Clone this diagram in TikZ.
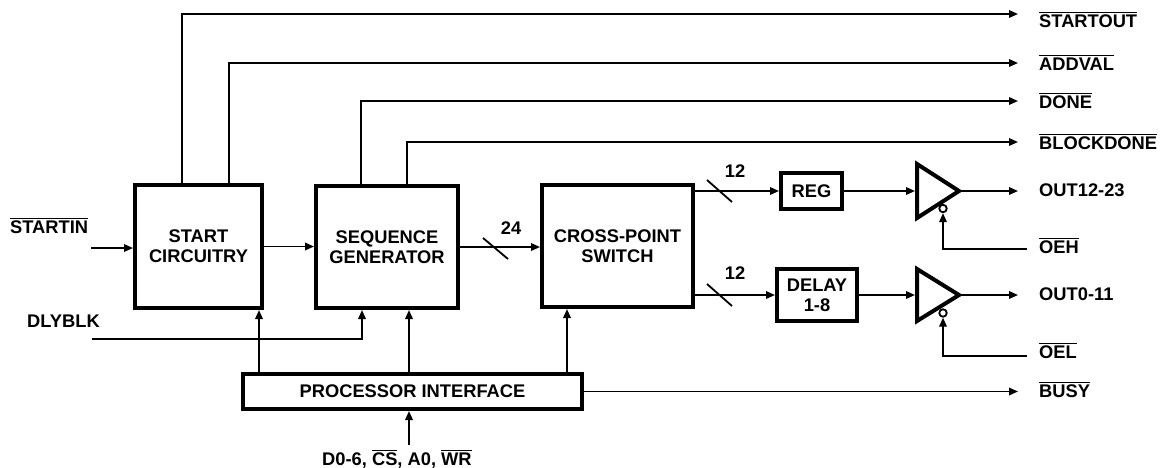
\documentclass[tikz,border=0pt]{standalone}
\usepackage{fontspec}
\setmainfont{Liberation Sans}
\usetikzlibrary{arrows.meta}
\newcommand{\barred}[1]{\leavevmode\vbox{\hrule height 0.9pt\kern 1.6pt\hbox{#1}}}
\begin{document}
\begin{tikzpicture}[x=1pt,y=-1pt,
  every node/.style={font=\fontsize{18.3}{20}\selectfont\bfseries},
  blk/.style={draw,line width=4pt,inner sep=0pt,align=center},
  wire/.style={line width=1.8pt},
  arr/.style={wire,-{Triangle[length=9pt,width=7.5pt]}},
  lbl/.style={anchor=base west,inner sep=0pt},
  num/.style={inner sep=0pt},
  buf/.style={line width=4pt},
  bubble/.style={circle,draw,line width=1.8pt,inner sep=0pt,minimum size=7.5pt}]
\useasboundingbox (0,0) rectangle (1166,467);

% blocks
\node[blk,minimum width=127pt,minimum height=123pt] (start) at (198.5,246.5) {START\\CIRCUITRY};
\node[blk,minimum width=142pt,minimum height=122pt] (seq) at (387,247) {SEQUENCE\\GENERATOR};
\node[blk,minimum width=151pt,minimum height=122pt] (xps) at (617.5,246) {CROSS-POINT\\SWITCH};
\node[blk,minimum width=61pt,minimum height=36pt] (reg) at (811.5,191) {REG};
\node[blk,minimum width=80pt,minimum height=52pt] (dly) at (817,295) {DELAY\\1-8};
\node[blk,minimum width=339pt,minimum height=35pt] (pi) at (412.5,391.5) {PROCESSOR INTERFACE};

% buffers
\draw[buf] (917,164) -- (959,191) -- (917,218) -- cycle;
\draw[buf] (917,269) -- (959,295) -- (917,321) -- cycle;
\coordinate (b1in) at (915,191);
\coordinate (b1out) at (961,191);
\coordinate (b2in) at (915,295);
\coordinate (b2out) at (961,295);
\node[bubble] (bub1) at (943,208.5) {};
\node[bubble] (bub2) at (943,313) {};

% end points
\coordinate (so) at (1018,14);
\coordinate (av) at (1018,63);
\coordinate (dn) at (1018,101);
\coordinate (bd) at (1018,142);
\coordinate (o1) at (1018,191);
\coordinate (o2) at (1018,295);
\coordinate (oeh) at (1027,249);
\coordinate (oel) at (1027,356);
\coordinate (busy) at (1018,391.5);
\coordinate (stin) at (91,248);
\coordinate (dlyin) at (92,339);
\coordinate (din) at (409,445);
\coordinate (c1) at (259,0);
\coordinate (c2) at (409,0);
\coordinate (c3) at (567,0);

% connectors
\draw[arr] ([xshift=-16.5pt]start.north) |- (so);
\draw[arr] ([xshift=30.5pt]start.north) |- (av);
\draw[arr] ([xshift=-26pt]seq.north) |- (dn);
\draw[arr] ([xshift=20pt]seq.north) |- (bd);
\draw[arr] (stin) -- (stin -| start.west);
\draw[arr] (start.east) -- (start.east -| seq.west);
\draw[arr] (seq.east) -- (seq.east -| xps.west);
\draw[arr] (dlyin) -| ([xshift=-25pt]seq.south);
\draw[arr] (pi.north -| c1) -- (start.south -| c1);
\draw[arr] (pi.north -| c2) -- (seq.south -| c2);
\draw[arr] (pi.north -| c3) -- (xps.south -| c3);
\draw[arr] (din) -- (din |- pi.south);
\draw[arr] (pi.east) -- (busy);
\draw[arr] (xps.east |- reg) -- (reg.west);
\draw[arr] (xps.east |- dly) -- (dly.west);
\draw[arr] (reg.east) -- (b1in);
\draw[arr] (dly.east) -- (b2in);
\draw[arr] (b1out) -- (o1);
\draw[arr] (b2out) -- (o2);
\draw[arr] (oeh) -| (bub1.south);
\draw[arr] (oel) -| (bub2.south);

% bus slashes
\draw[wire] (483,238) -- (508,259);
\draw[wire] (707,180) -- (732,202);
\draw[wire] (707,284) -- (732,306);
\node[num] (l24) at (511,228) {24};
\node[num] (l12a) at (735,171) {12};
\node[num] (l12b) at (735,273) {12};

% labels
\node[lbl] (lso) at (1039,27) {\barred{STARTOUT}};
\node[lbl] (lav) at (1039,70) {\barred{ADDVAL}};
\node[lbl] (ldn) at (1039,108) {\barred{DONE}};
\node[lbl] (lbd) at (1039,149) {\barred{BLOCKDONE}};
\node[lbl] (lo1) at (1039,196) {OUT12-23};
\node[lbl] (loeh) at (1039,253) {\barred{OEH}};
\node[lbl] (lo2) at (1039,300) {OUT0-11};
\node[lbl] (loel) at (1039,358) {\barred{OEL}};
\node[lbl] (lbusy) at (1039,397) {\barred{BUSY}};
\node[lbl] (lstin) at (10,233) {\barred{STARTIN}};
\node[lbl] (ldly) at (27,327) {DLYBLK};
\node[lbl] (ldin) at (322,465) {D0-6, \barred{CS}, A0, \barred{WR}};
\end{tikzpicture}
\end{document}
